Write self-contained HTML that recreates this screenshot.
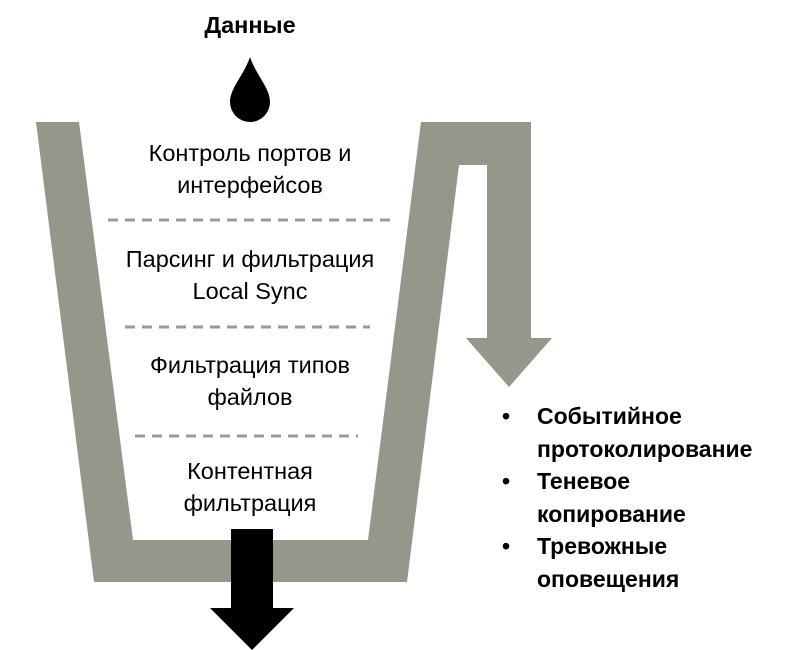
<!DOCTYPE html>
<html><head><meta charset="utf-8"><style>
body{margin:0;background:#fff;width:790px;height:650px;overflow:hidden;font-family:"Liberation Sans","DejaVu Sans",sans-serif}
.t{position:absolute;font-size:23.5px;color:#000;text-align:center;line-height:32px;white-space:nowrap}
.b{position:absolute;font-size:23px;font-weight:bold;white-space:nowrap;line-height:32.5px}
</style></head><body>
<svg width="790" height="650" style="position:absolute;left:0;top:0">
<polygon fill="#97968b" points="36,122 79,122 133,540 368,540 421,122 531,122 531,338 552,338 509,387 466,338 487,338 487,165 459,165 407,582 94,582"/>
<polygon fill="#000" points="231,529 273,529 273,608 294,608 252,650 210,608 231,608"/>
<path d="M250,57 C256,75 270,88 270,102 A20,20 0 0 1 230,102 C230,88 244,75 250,57 Z" fill="#000"/>
<g stroke="#999" stroke-width="3" stroke-dasharray="10,7">
<line x1="108" y1="220" x2="392" y2="220"/>
<line x1="125" y1="327" x2="370" y2="327"/>
<line x1="135" y1="436" x2="358" y2="436"/>
</g>
</svg>
<div class="t" style="left:100px;top:9px;width:300px;font-weight:bold">Данные</div>
<div class="t" style="left:50px;top:137px;width:400px">Контроль портов и<br>интерфейсов</div>
<div class="t" style="left:50px;top:243px;width:400px">Парсинг и фильтрация<br>Local Sync</div>
<div class="t" style="left:50px;top:349px;width:400px">Фильтрация типов<br>файлов</div>
<div class="t" style="left:50px;top:455px;width:400px">Контентная<br>фильтрация</div>
<div class="b" style="left:502px;top:400px">•</div>
<div class="b" style="left:502px;top:465px">•</div>
<div class="b" style="left:502px;top:530px">•</div>
<div class="b" style="left:537px;top:400px">Событийное<br>протоколирование<br>Теневое<br>копирование<br>Тревожные<br>оповещения</div>
</body></html>
